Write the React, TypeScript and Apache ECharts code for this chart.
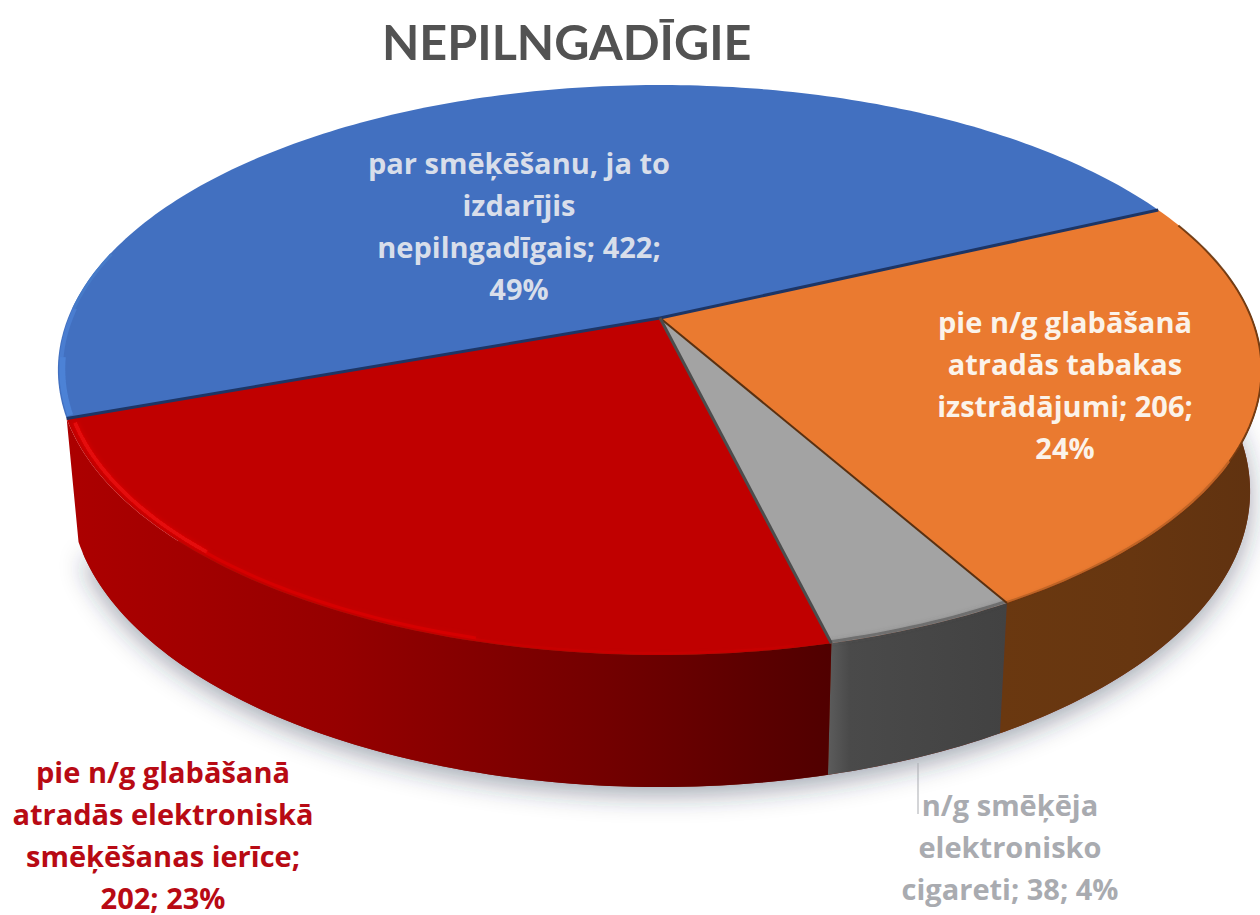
import React, { useEffect, useRef } from "react";
import * as echarts from "echarts";

const chartTitle = "NEPILNGADĪGIE";
const sliceNames = [
  "par smēķēšanu, ja to\nizdarījis\nnepilngadīgais",
  "pie n/g glabāšanā\natradās tabakas\nizstrādājumi",
  "n/g smēķēja\nelektronisko\ncigareti",
  "pie n/g glabāšanā\natradās elektroniskā\nsmēķēšanas ierīce",
];
const sliceValues = [422, 206, 38, 202];
const slicePercents = [49, 24, 4, 23];
const nameValueJoin = ["; ", "; ", "; ", ";\n"];
const valuePercentJoin = [";\n", ";\n", "; ", "; "];
const topColors = ["#4270c0", "#ea7a30", "#a3a3a3", "#c00000"];
const labelColors = ["#d8deea", "#fbf3ea", "#a9abb0", "#b80a14"];
const edgeColors = ["#1d3565", "#1d3565", "#5a3010", "#4c4c4c"];

const CX = 660, CY = 318, A = 592, B = 275.5, K = -0.1825, START = 160;
const total = sliceValues.reduce((s, v) => s + v, 0);
const starts: number[] = [];
sliceValues.reduce((acc, v, i) => {
  starts[i] = acc;
  return acc + (360 * v) / total;
}, START);
const endOf = (i: number) => starts[i] + (360 * sliceValues[i]) / total;

function top(deg: number, r = 1): number[] {
  const t = (deg * Math.PI) / 180;
  const x = r * Math.cos(t), y = r * Math.sin(t);
  const d = 1 + K * y;
  return [CX + (A * x) / d, CY + (B * y) / d];
}
function bottom(deg: number): number[] {
  const p = top(deg);
  const y = Math.sin((deg * Math.PI) / 180);
  return [CX + 0.98 * (p[0] - CX), p[1] + 119 + 13 * y];
}
function arc(fn: (d: number) => number[], s: number, e: number): number[][] {
  const n = Math.max(2, Math.ceil(Math.abs(e - s)));
  const out: number[][] = [];
  for (let i = 0; i <= n; i++) out.push(fn(s + ((e - s) * i) / n));
  return out;
}
const grad = (stops: [number, string][], x2 = 1, y2 = 0) => ({
  type: "linear", x: 0, y: 0, x2, y2,
  colorStops: stops.map(([offset, color]) => ({ offset, color })),
});
const sideFills: any[] = [
  null,
  grad([[0, "#6a3810"], [0.5, "#673610"], [1, "#603210"]]),
  grad([[0, "#5c5c5c"], [0.12, "#4a4a4a"], [1, "#424242"]]),
  grad([[0, "#ac0000"], [0.35, "#960000"], [0.7, "#730000"], [1, "#500000"]]),
];

function renderSide(params: any) {
  const i = params.dataIndex;
  const children: any[] = [];
  if (i === 0) {
    children.push({
      type: "polygon",
      shape: { points: arc(bottom, 355, 518) },
      style: {
        fill: "#7a2a10",
        shadowBlur: 26,
        shadowColor: "rgba(40,50,70,0.42)",
        shadowOffsetX: 0,
        shadowOffsetY: 8,
      },
    });
  }
  let s = starts[i], e = endOf(i);
  if (i > 0) {
    s = Math.max(s, 350);
    children.push({
      type: "polygon",
      shape: { points: [...arc(top, s, e), ...arc(bottom, e, s)] },
      style: { fill: sideFills[i] },
    });
  }
  return { type: "group", children };
}

function renderTop(params: any) {
  const i = params.dataIndex;
  const s = starts[i], e = endOf(i);
  return {
    type: "group",
    children: [
      {
        type: "polygon",
        shape: { points: [[CX, CY], ...arc(top, s, e)] },
        style: { fill: topColors[i] },
      },
    ],
  };
}

function rim(s: number, e: number, r: number, stroke: string, lineWidth: number, blur = 0) {
  return {
    type: "polyline",
    shape: { points: arc((d) => top(d, r), s, e) },
    style: {
      stroke, lineWidth, fill: null, lineCap: "butt",
      shadowBlur: blur, shadowColor: blur ? stroke : "transparent",
    },
  };
}

const labelBoxes = [
  { x: 519, y: 225 },
  { x: 1065, y: 384 },
  { x: 1010, y: 846 },
  { x: 163, y: 834 },
];

function renderOverlay(params: any) {
  const i = params.dataIndex;
  const s = starts[i], e = endOf(i);
  const children: any[] = [];
  if (i === 0) {
    children.push(rim(s + 0.5, s + 12, 0.993, "#4c82d6", 6));
    children.push(rim(s + 12, s + 22, 0.995, "#4a7dd0", 4));
    children.push(rim(s + 22, s + 34, 0.997, "#467ac8", 3));
  }
  if (i === 1) {
    children.push(rim(s + 4, e - 32, 0.999, "rgba(90,45,10,0.8)", 2));
    children.push(rim(e - 32, e, 0.998, "rgba(100,55,20,0.3)", 2, 3));
  }
  if (i === 2) {
    children.push(rim(s, e, 0.996, "rgba(70,70,70,0.5)", 3, 4));
  }
  if (i === 3) {
    children.push(rim(e - 28, e - 1, 0.99, "rgba(232,10,10,0.85)", 4, 5));
    children.push(rim(e - 55, e - 28, 0.992, "rgba(228,8,8,0.55)", 3, 4));
    children.push(rim(s + 3, e - 55, 0.995, "rgba(218,4,4,0.25)", 2, 3));
  }
  children.push({
    type: "line",
    shape: { x1: CX, y1: CY, x2: top(s)[0], y2: top(s)[1] },
    style: { stroke: edgeColors[i], lineWidth: i === 2 ? 2 : 3 },
  });
  if (i === 2) {
    children.push({
      type: "line",
      shape: { x1: 918, y1: 763, x2: 918, y2: 814 },
      style: { stroke: "#a9abb0", lineWidth: 1 },
    });
  }
  const value = sliceValues[i] + valuePercentJoin[i] + slicePercents[i] + "%";
  children.push({
    type: "text",
    style: {
      text: sliceNames[i] + nameValueJoin[i] + value,
      x: labelBoxes[i].x,
      y: labelBoxes[i].y,
      align: "center",
      verticalAlign: "middle",
      fill: labelColors[i],
      font: '700 29px "Open Sans", Lato, sans-serif',
      lineHeight: 42,
    },
  });
  return { type: "group", children };
}

export default function App() {
  const ref = useRef<HTMLDivElement>(null);
  useEffect(() => {
    if (!ref.current) return;
    const chart = echarts.init(ref.current, undefined, { renderer: "svg" });
    const data = sliceNames.map((name, i) => ({ name, value: [sliceValues[i]] }));
    chart.setOption({
      animation: false,
      backgroundColor: "#ffffff",
      title: {
        text: chartTitle,
        left: 377,
        top: 11,
        textStyle: {
          fontFamily: 'Lato, "Open Sans", sans-serif',
          fontWeight: 700,
          fontSize: 48.5,
          color: "#525252",
        },
      },
      series: [
        { type: "custom", coordinateSystem: "none", silent: true, z: 1, renderItem: renderSide, data },
        { type: "custom", coordinateSystem: "none", silent: true, z: 2, renderItem: renderTop, data },
        { type: "custom", coordinateSystem: "none", silent: true, z: 3, renderItem: renderOverlay, data },
      ],
    });
    return () => chart.dispose();
  }, []);
  return (
    <div
      ref={ref}
      style={{ position: "fixed", left: 0, top: 0, width: 1260, height: 915 }}
    />
  );
}
